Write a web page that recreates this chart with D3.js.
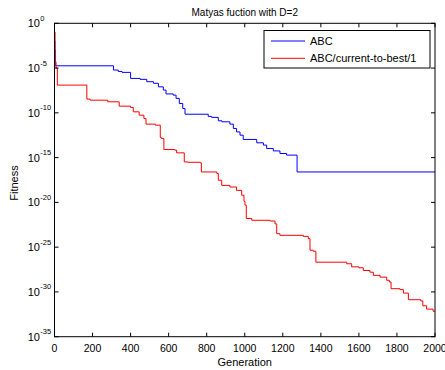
<!DOCTYPE html>
<html><head><meta charset="utf-8">
<script src="https://cdn.jsdelivr.net/npm/d3@7"></script>
<style>body{margin:0;background:#fff}svg{display:block}text{font-family:Arial,"Liberation Sans",sans-serif;fill:#000}</style>
</head><body>
<svg id="c" width="445" height="370"></svg>
<script>
const title = "Matyas fuction with D=2";
const xLabel = "Generation";
const yLabel = "Fitness";
const seriesNames = ["ABC", "ABC/current-to-best/1"];
const seriesColors = ["#0000ff", "#ff0000"];
const xTicks = [0, 200, 400, 600, 800, 1000, 1200, 1400, 1600, 1800, 2000];
const yTickExponents = [0, -5, -10, -15, -20, -25, -30, -35];

// ABC: [generation, fitness] (step values)
const abcGen = [0, 2, 4, 310, 335, 355, 400, 450, 485, 520, 546, 572, 586, 624, 639, 656, 674, 686, 808, 826, 861, 880, 922, 940, 957, 975, 992, 1063, 1098, 1115, 1150, 1185, 1220, 1275, 2000];
const abcFit = [1.1e-2, 1.0e-3, 1.8e-5, 6.0e-6, 4.2e-6, 3.3e-6, 7.0e-7, 5.5e-7, 3.0e-7, 2.0e-7, 8.0e-8, 3.5e-8, 1.3e-8, 9.5e-9, 4.1e-9, 1.1e-9, 3.1e-10, 7.0e-11, 4.0e-11, 3.1e-11, 1.3e-11, 1.0e-11, 5.5e-12, 1.8e-12, 7.4e-13, 3.2e-13, 1.07e-13, 4.5e-14, 2.5e-14, 1.05e-14, 5.6e-15, 2.9e-15, 1.9e-15, 2.5e-17, 2.5e-17];

// ABC/current-to-best/1
const ctbGen = [0, 3, 8, 15, 170, 187, 280, 340, 400, 414, 445, 470, 481, 530, 556, 562, 575, 633, 642, 682, 700, 766, 772, 853, 861, 879, 922, 957, 984, 996, 1001, 1008, 1037, 1133, 1159, 1168, 1185, 1308, 1334, 1343, 1360, 1374, 1536, 1562, 1600, 1623, 1658, 1676, 1711, 1746, 1760, 1769, 1816, 1834, 1860, 1925, 1936, 1956, 1990, 2000];
const ctbFit = [1.1e-1, 5.0e-5, 1.0e-5, 1.25e-7, 3.4e-9, 2.6e-9, 1.7e-9, 5.6e-10, 4.0e-10, 1.3e-10, 5.5e-11, 2.3e-11, 5.5e-12, 4.2e-12, 1.8e-13, 1.4e-13, 7.9e-15, 6.8e-15, 3.4e-15, 3.3e-16, 3.0e-16, 2.6e-16, 2.5e-17, 1.7e-17, 3.0e-18, 7.9e-19, 5.2e-19, 2.2e-19, 6.3e-20, 1.3e-20, 5.0e-21, 1.6e-22, 1.0e-22, 8.3e-23, 4.0e-23, 3.2e-24, 2.1e-24, 1.6e-24, 8.9e-25, 4.5e-26, 3.5e-26, 2.1e-27, 1.4e-27, 6.3e-28, 5.0e-28, 2.5e-28, 1.6e-28, 7.1e-29, 4.5e-29, 2.0e-29, 1.3e-29, 2.3e-30, 1.8e-30, 7.4e-31, 1.35e-31, 1.0e-31, 2.8e-32, 1.2e-32, 7.0e-33, 7.0e-33];

const L = 54.5, R = 435, T = 23.3, B = 336.7;
const svg = d3.select("#c");
const x = d3.scaleLinear().domain([0, 2000]).range([L, R]);
const y = d3.scaleLog().domain([1e-35, 1]).range([B, T]);

const line = d3.line().x(d => x(d[0])).y(d => y(d[1])).curve(d3.curveStepAfter);
const series = [d3.zip(abcGen, abcFit), d3.zip(ctbGen, ctbFit)];

const g = svg.append("g");
series.forEach((s, i) => {
  g.append("path").datum(s).attr("d", line).attr("fill", "none")
    .attr("stroke", seriesColors[i]).attr("stroke-width", 1);
});

// frame
svg.append("rect").attr("x", L).attr("y", T).attr("width", R - L).attr("height", B - T)
  .attr("fill", "none").attr("stroke", "#000").attr("stroke-width", 1);

const tl = 4;
// x ticks
xTicks.forEach(t => {
  const px = x(t);
  svg.append("line").attr("x1", px).attr("x2", px).attr("y1", B).attr("y2", B - tl).attr("stroke", "#000");
  svg.append("line").attr("x1", px).attr("x2", px).attr("y1", T).attr("y2", T + tl).attr("stroke", "#000");
  svg.append("text").attr("x", px).attr("y", 352).attr("text-anchor", "middle")
    .style("font-size", "10.5px").text(t);
});
// y ticks
yTickExponents.forEach(e => {
  const py = y(Math.pow(10, e));
  svg.append("line").attr("x1", L).attr("x2", L + tl).attr("y1", py).attr("y2", py).attr("stroke", "#000");
  svg.append("line").attr("x1", R).attr("x2", R - tl).attr("y1", py).attr("y2", py).attr("stroke", "#000");
  svg.append("text").attr("x", 40).attr("y", py + 4).attr("text-anchor", "end")
    .style("font-size", "11px").text("10");
  svg.append("text").attr("x", 40.3).attr("y", py - 2.5).attr("text-anchor", "start")
    .style("font-size", "7.5px").text(e === 0 ? "0" : String(e));
});

svg.append("text").attr("x", (L + R) / 2).attr("y", 366).attr("text-anchor", "middle")
  .style("font-size", "11px").text(xLabel);
svg.append("text").attr("transform", "translate(18,183) rotate(-90)").attr("text-anchor", "middle")
  .style("font-size", "11px").text(yLabel);
svg.append("text").attr("x", (L + R) / 2).attr("y", 16).attr("text-anchor", "middle")
  .style("font-size", "10px").text(title);

// legend
const lg = svg.append("g");
lg.append("rect").attr("x", 264).attr("y", 30.5).attr("width", 166).attr("height", 37.5)
  .attr("fill", "#fff").attr("stroke", "#000").attr("stroke-width", 1);
seriesNames.forEach((n, i) => {
  const ly = 41 + i * 17.3;
  lg.append("line").attr("x1", 271).attr("x2", 305).attr("y1", ly).attr("y2", ly)
    .attr("stroke", seriesColors[i]).attr("stroke-width", 1);
  lg.append("text").attr("x", 310).attr("y", ly + 4).style("font-size", "11px").text(n);
});
</script>
</body></html>
